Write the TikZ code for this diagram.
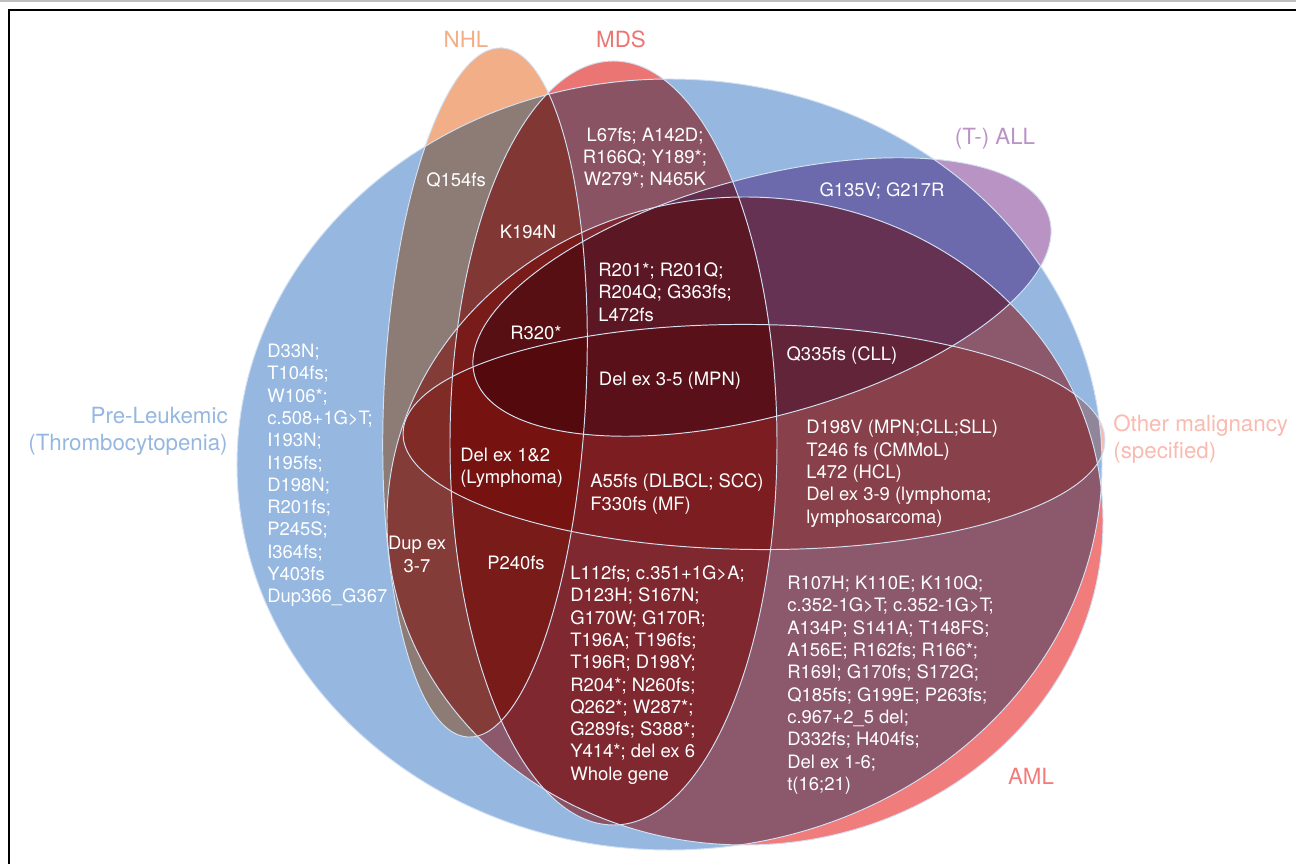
\documentclass[tikz,border=0pt]{standalone}
\usepackage{fontspec}
\setmainfont{TeX Gyre Heros}
\usetikzlibrary{positioning}
\definecolor{preleuk}{HTML}{95B7E0}
\definecolor{nhl}{HTML}{F2AE86}
\definecolor{mds}{HTML}{EB7572}
\definecolor{aml}{HTML}{F07C7B}
\definecolor{tall}{HTML}{B993C4}
\definecolor{other}{HTML}{F9BAB0}
\definecolor{edgeline}{HTML}{D3E0F2}
\tikzset{
         myset/.style={fill=#1, blend mode=multiply},
         myedge/.style={draw=edgeline, line width=0.55pt},
         mylabel/.style={font=\fontsize{12.7}{15.5}\selectfont, text=#1, inner sep=0pt},
         mymut/.style={font=\fontsize{10.5}{12.7}\selectfont, text=white, inner sep=0pt, align=left, anchor=west},
         mymutc/.style={font=\fontsize{10.5}{12.7}\selectfont, text=white, inner sep=0pt, align=center}
      }

\begin{document}
\begin{tikzpicture}[x=0.02cm, y=-0.02cm]
                  \useasboundingbox (0,0) rectangle (1296,864);
                  \clip (0,0) rectangle (1296,864);
                  % sets: centre x / centre y / radii / turn / colour
                  \foreach \cx/\cy/\rx/\ry/\rot/\col in {669.5/464.5/432.5/385.5/0/preleuk,
                                                           485/392.5/101/345/-2.8/nhl,
                                                           613.5/443/163.5/382/0/mds,
                                                           745/521/358/324/0/aml,
                                                           762/297/298/119/15.35/tall,
                                                           754/437/351/112.5/-0.6/other}
                  {
                     \begin{scope}[shift={(\cx,\cy)}, rotate=\rot]
                        \path [myset=\col] (0,0) ellipse [x radius=\rx, y radius=\ry];
                     \end{scope}
                  }
                  \foreach \cx/\cy/\rx/\ry/\rot in {669.5/464.5/432.5/385.5/0,
                                                     485/392.5/101/345/-2.8,
                                                     613.5/443/163.5/382/0,
                                                     745/521/358/324/0,
                                                     762/297/298/119/15.35,
                                                     754/437/351/112.5/-0.6}
                  {
                     \begin{scope}[shift={(\cx,\cy)}, rotate=\rot]
                        \path [myedge] (0,0) ellipse [x radius=\rx, y radius=\ry];
                     \end{scope}
                  }
                  \draw [gray!50, line width=0.6pt] (0,1) -- (1296,1);
                  \draw [line width=1.15pt] (9,880) -- (9,10) -- (1310,10);

                  % set names
                  \node [mylabel=nhl] (nhllab) at (466,39) {NHL};
                  \node [mylabel=mds] (mdslab) at (621,39) {MDS};
                  \node [mylabel=tall] (alllab) at (995,139) {(T-) ALL};
                  \node [mylabel=preleuk, align=right, anchor=east] (prelab) at (228,431) {Pre-Leukemic\\(Thrombocytopenia)};
                  \node [mylabel=other, align=left, anchor=west] (otherlab) at (1113,439) {Other malignancy\\(specified)};
                  \node [mylabel=aml] (amllab) at (1031,776) {AML};

                  % variants
                  \node [mymut] (prelist) at (267,475.5) {D33N;\\T104fs;\\W106*;\\c.508+1G>T;\\I193N;\\I195fs;\\D198N;\\R201fs;\\P245S;\\I364fs;\\Y403fs\\Dup366\_G367};
                  \node [mymutc] (q154) at (456,180) {Q154fs};
                  \node [mymutc] (k194) at (528,232) {K194N};
                  \node [mymutc] (l67) at (645,158) {L67fs; A142D;\\R166Q; Y189*;\\W279*; N465K};
                  \node [mymut] (r201) at (598,292) {R201*; R201Q;\\R204Q; G363fs;\\L472fs};
                  \node [mymutc] (g135) at (882,191) {G135V; G217R};
                  \node [mymutc] (r320) at (536,333) {R320*};
                  \node [mymutc] (del35) at (670,381) {Del ex 3-5 (MPN)};
                  \node [mymutc] (q335) at (842,356) {Q335fs (CLL)};
                  \node [mymut] (del12) at (460,467.5) {Del ex 1\&2\\(Lymphoma)};
                  \node [mymut] (a55) at (590,494) {A55fs (DLBCL; SCC)\\F330fs (MF)};
                  \node [mymut] (d198v) at (806,473.5) {D198V (MPN;CLL;SLL)\\T246 fs (CMMoL)\\L472 (HCL)\\Del ex 3-9 (lymphoma;\\lymphosarcoma)};
                  \node [mymutc] (dup37) at (417,554.5) {Dup ex\\3-7};
                  \node [mymutc] (p240) at (516,563) {P240fs};
                  \node [mymut] (l112) at (570,675) {L112fs; c.351+1G>A;\\D123H; S167N;\\G170W; G170R;\\T196A; T196fs;\\T196R; D198Y;\\R204*; N260fs;\\Q262*; W287*;\\G289fs; S388*;\\Y414*; del ex 6\\Whole gene};
                  \node [mymut] (amllist) at (787,685) {R107H; K110E; K110Q;\\c.352-1G>T; c.352-1G>T;\\A134P; S141A; T148FS;\\A156E; R162fs; R166*;\\R169I; G170fs; S172G;\\Q185fs; G199E; P263fs;\\c.967+2\_5 del;\\D332fs; H404fs;\\Del ex 1-6;\\t(16;21)};
\end{tikzpicture}
\end{document}
